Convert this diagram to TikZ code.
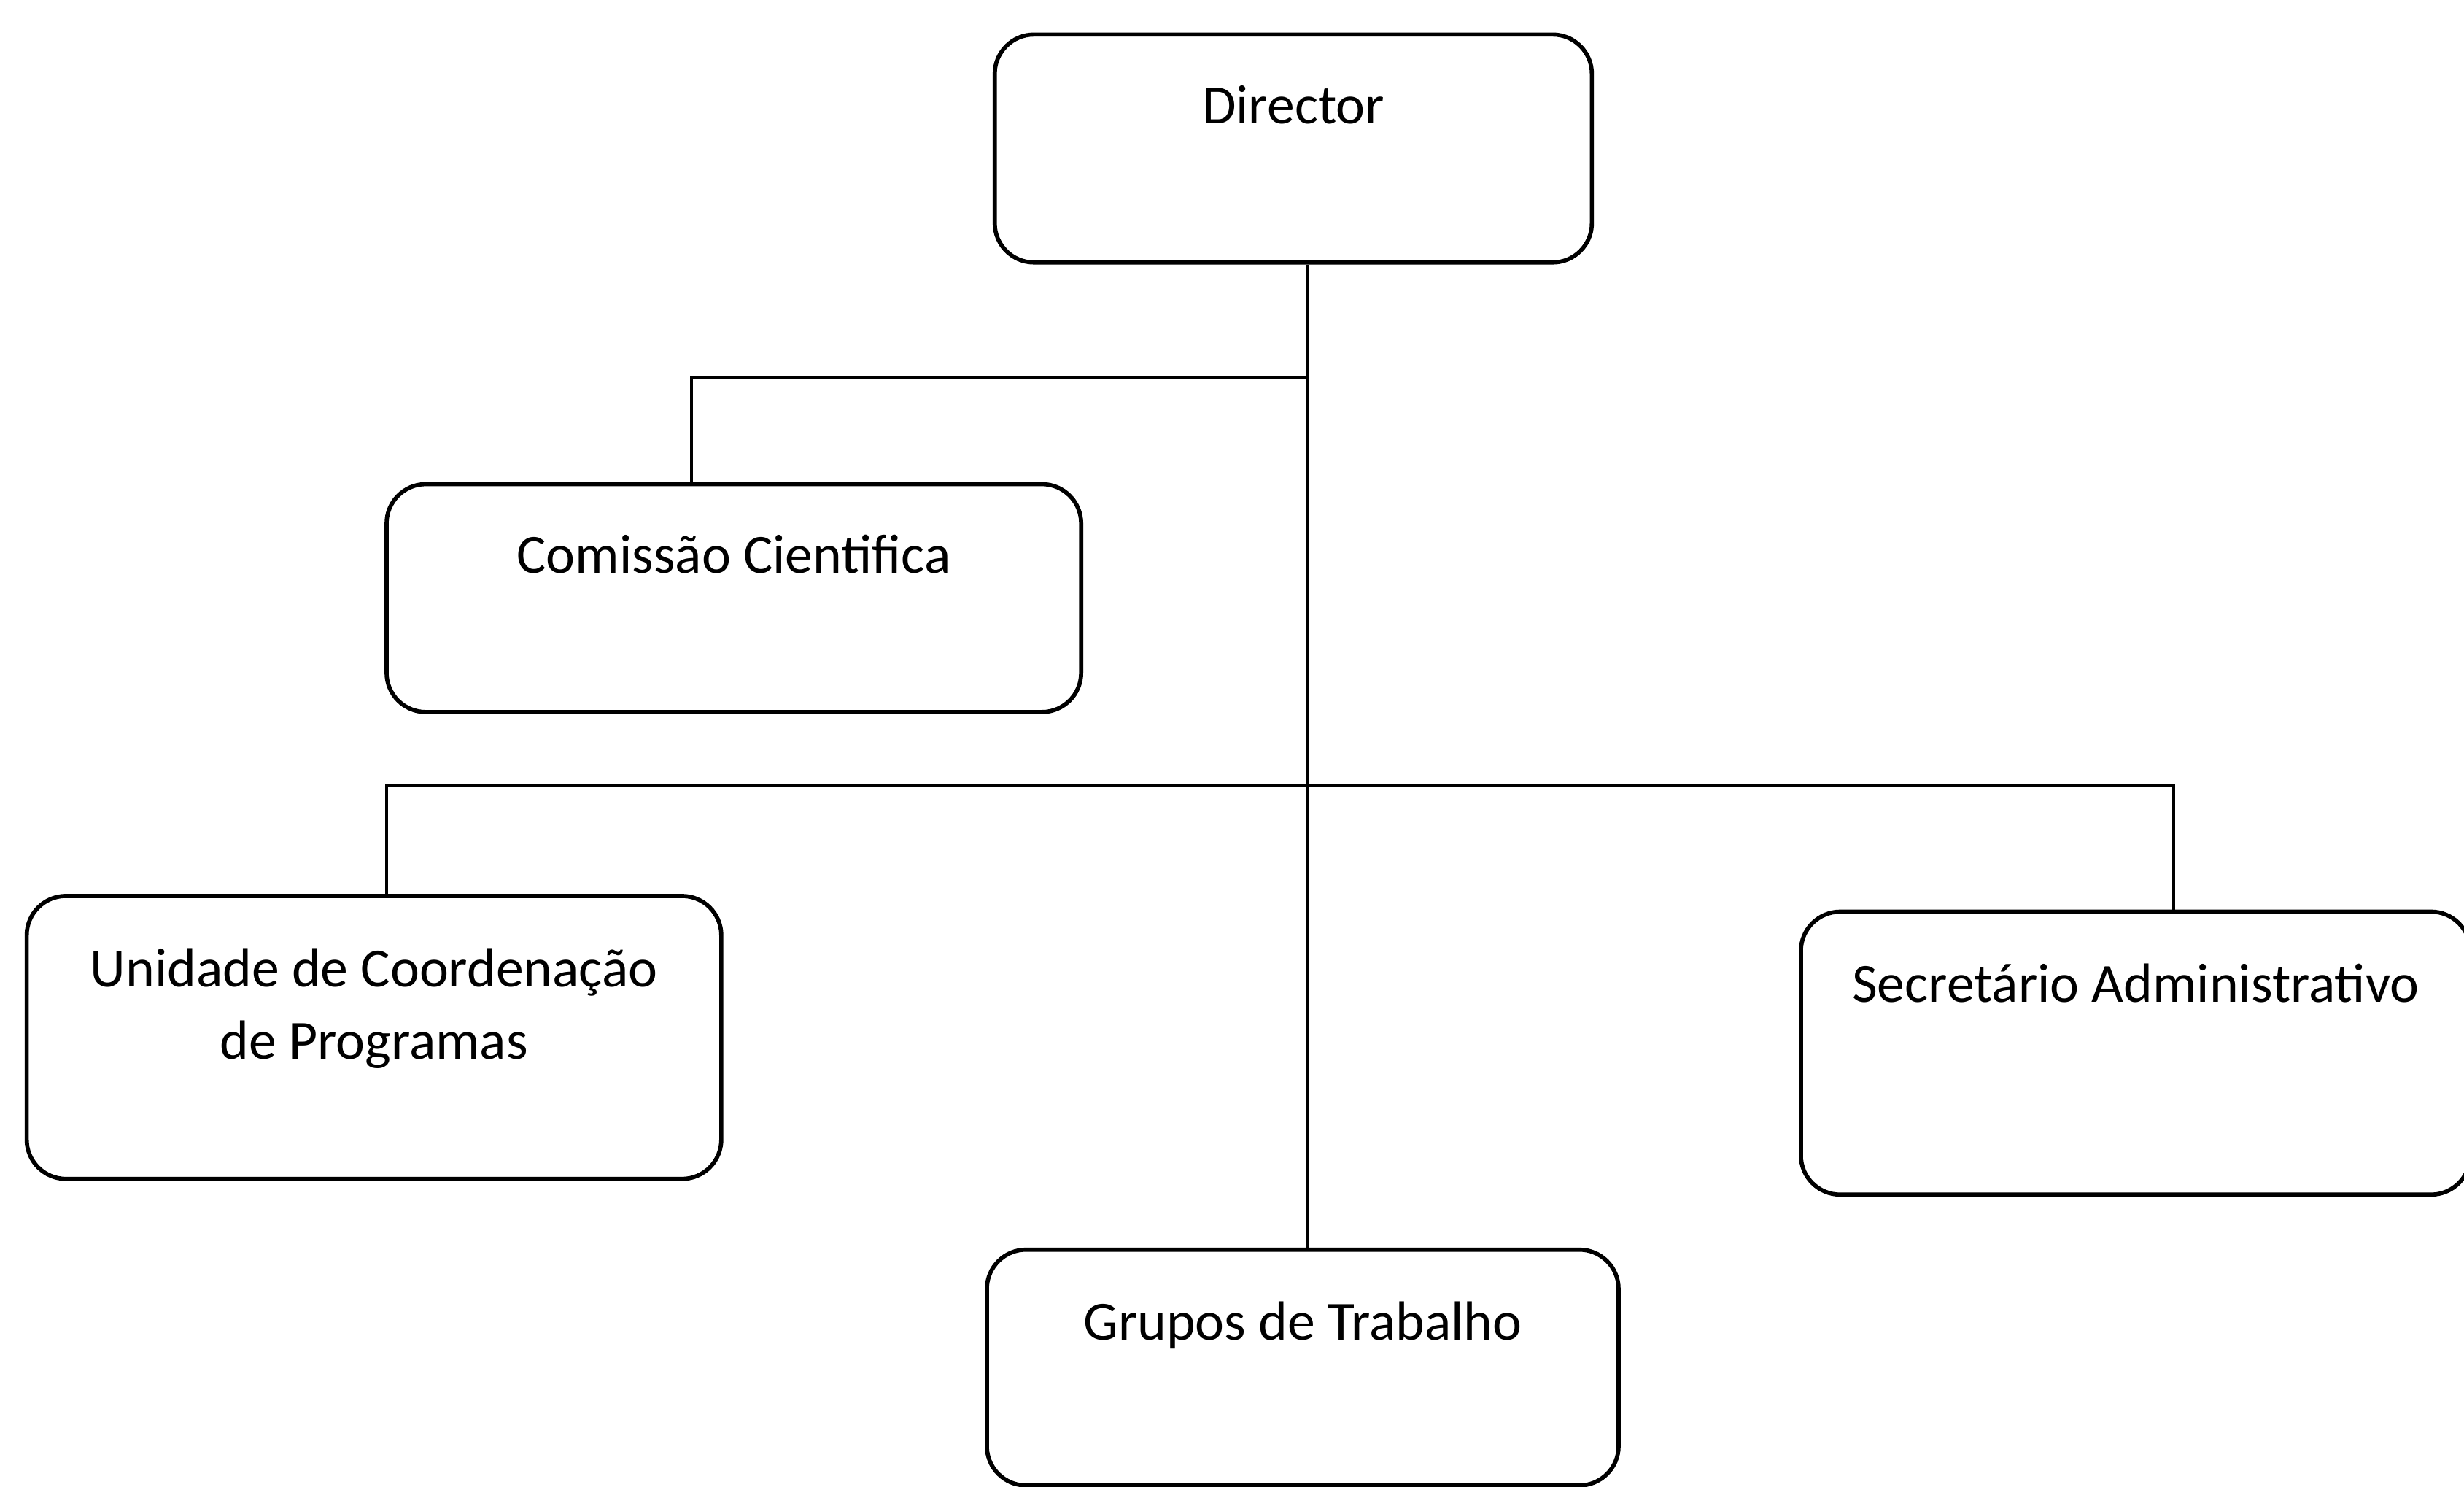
\documentclass[tikz,border=0pt]{standalone}
\usepackage{fontspec}
\setmainfont{Carlito}
\usetikzlibrary{positioning, calc}

\tikzset{
  orgbox/.style={draw, line width=1.5pt, rounded corners=0.5cm, inner sep=0pt},
  orgtext/.style={anchor=base, inner sep=0pt, align=center, font=\fontsize{20}{26}\selectfont},
  link/.style={line width=1.1pt},
}

\begin{document}
\begin{tikzpicture}
      \useasboundingbox (0,0) rectangle (31.36,18.92);
      \node[orgbox, minimum width=7.6cm, minimum height=2.9cm] (dir) at (16.46,17.03) {};
      \node[orgbox, minimum width=8.84cm, minimum height=2.9cm] (cc) at (9.34,11.31) {};
      \node[orgbox, minimum width=8.84cm, minimum height=3.6cm] (ucp) at (4.76,5.72) {};
      \node[orgbox, minimum width=8.52cm, minimum height=3.6cm] (sec) at (27.18,5.52) {};
      \node[orgbox, minimum width=8.04cm, minimum height=3.0cm] (grp) at (16.58,1.52) {};
      \node[orgtext] (dirlbl) at ([yshift=-1.16cm]dir.north) {Director};
      \node[orgtext] (cclbl) at ([yshift=-1.16cm]cc.north) {Comissão Cientifica};
      \node[orgtext] (ucplbl) at ([yshift=-2.10cm]ucp.north) {Unidade de Coordenação\\de Programas};
      \node[orgtext] (seclbl) at ([yshift=-1.18cm]sec.north) {Secretário Administrativo};
      \node[orgtext] (grplbl) at ([yshift=-1.18cm]grp.north) {Grupos de Trabalho};
      \coordinate (trunk) at ([xshift=0.18cm]dir.south);
      \coordinate (jc) at (trunk |- 0,14.12);
      \coordinate (jb) at (trunk |- 0,8.92);
      \draw[link] (trunk) -- (trunk |- grp.north);
      \draw[link] (jc) -| ([xshift=-0.54cm]cc.north);
      \draw[link] (jb) -| ([xshift=0.16cm]ucp.north);
      \draw[link] (jb) -| ([xshift=0.48cm]sec.north);
\end{tikzpicture}
\end{document}
